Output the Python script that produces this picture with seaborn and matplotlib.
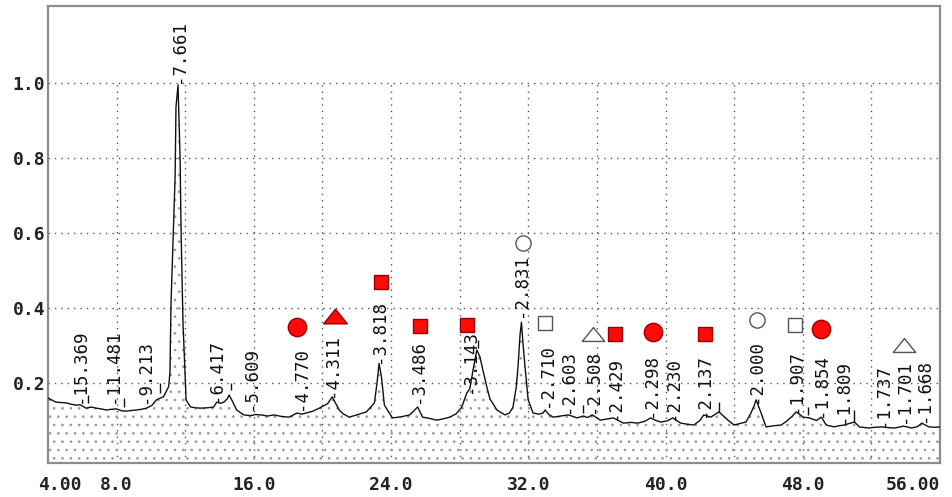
import matplotlib
matplotlib.use("Agg")
import matplotlib.pyplot as plt
from matplotlib.path import Path
from matplotlib.transforms import ScaledTranslation
import seaborn as sns

# --- diffraction profile (2-theta, relative intensity) ---
two_theta = [4.00, 4.47, 5.05, 5.40, 5.64, 5.87, 6.22, 6.50, 6.81, 7.10, 7.40, 7.70,
             7.98, 8.30, 8.57, 8.90, 9.15, 9.45, 9.74, 10.05, 10.32, 10.55, 10.73,
             11.03, 11.11, 11.17, 11.29, 11.41, 11.46, 11.58, 11.70, 11.76, 11.87,
             11.99, 12.05, 12.31, 12.60, 12.90, 13.30, 13.66, 13.84, 14.05, 14.25,
             14.45, 14.56, 14.71, 15.00, 15.42, 15.80, 16.10, 16.41, 16.80, 17.17,
             17.60, 18.05, 18.52, 18.80, 19.05, 19.45, 19.81, 20.30, 20.57, 20.98,
             21.20, 21.56, 22.00, 22.56, 23.03, 23.18, 23.30, 23.44, 23.61, 24.08,
             24.60, 25.08, 25.55, 25.84, 26.20, 26.66, 27.00, 27.42, 27.80, 28.12,
             28.41, 28.59, 28.80, 29.00, 29.18, 29.35, 29.58, 29.76, 30.17, 30.64,
             30.90, 31.11, 31.30, 31.40, 31.52, 31.60, 31.70, 31.81, 31.99, 32.28,
             32.60, 32.86, 32.98, 33.20, 33.45, 33.90, 34.33, 34.85, 35.20, 35.45,
             35.73, 36.20, 36.60, 36.96, 37.55, 38.00, 38.37, 38.80, 39.13, 39.40,
             39.71, 40.10, 40.42, 40.89, 41.30, 41.65, 42.00, 42.23, 42.64, 43.11,
             43.64, 43.99, 44.35, 44.69, 44.98, 45.15, 45.28, 45.42, 45.57, 45.86,
             46.30, 46.74, 47.05, 47.33, 47.62, 48.03, 48.38, 48.80, 49.08, 49.37,
             49.84, 50.10, 50.43, 50.70, 51.01, 51.31, 51.84, 52.20, 52.60, 53.00,
             53.36, 53.88, 54.35, 54.70, 54.94, 55.35, 55.70, 56.00]
intensity = [0.160, 0.149, 0.147, 0.143, 0.141, 0.142, 0.133, 0.136, 0.133, 0.131, 0.128, 0.130,
             0.131, 0.126, 0.125, 0.127, 0.128, 0.130, 0.133, 0.140, 0.155, 0.160, 0.163,
             0.190, 0.227, 0.410, 0.580, 0.750, 0.936, 0.995, 0.800, 0.600, 0.360,
             0.220, 0.155, 0.136, 0.134, 0.133, 0.134, 0.136, 0.149, 0.146, 0.149,
             0.158, 0.168, 0.155, 0.128, 0.115, 0.113, 0.116, 0.115, 0.112, 0.115,
             0.111, 0.109, 0.120, 0.117, 0.120, 0.125, 0.133, 0.145, 0.163, 0.128,
             0.118, 0.109, 0.115, 0.123, 0.147, 0.200, 0.252, 0.216, 0.141, 0.107,
             0.110, 0.115, 0.136, 0.109, 0.106, 0.101, 0.104, 0.109, 0.118, 0.136,
             0.173, 0.185, 0.240, 0.288, 0.270, 0.235, 0.190, 0.158, 0.128, 0.115,
             0.120, 0.136, 0.190, 0.243, 0.330, 0.362, 0.300, 0.243, 0.155, 0.120,
             0.117, 0.120, 0.128, 0.116, 0.109, 0.112, 0.115, 0.107, 0.112, 0.108,
             0.115, 0.101, 0.104, 0.107, 0.093, 0.095, 0.093, 0.098, 0.107, 0.101,
             0.096, 0.099, 0.107, 0.093, 0.090, 0.088, 0.100, 0.115, 0.109, 0.123,
             0.101, 0.088, 0.092, 0.096, 0.120, 0.138, 0.155, 0.138, 0.120, 0.083,
             0.086, 0.088, 0.098, 0.109, 0.123, 0.109, 0.107, 0.100, 0.109, 0.088,
             0.083, 0.086, 0.088, 0.092, 0.096, 0.083, 0.080, 0.082, 0.083, 0.081,
             0.080, 0.085, 0.080, 0.084, 0.093, 0.083, 0.082, 0.083]

# --- indexed reflections: d-spacing labels (angstrom) ---
peak_d = ["15.369", "11.481", "9.213", "7.661", "6.417", "5.609", "4.770", "4.311",
          "3.818", "3.486", "3.143", "2.831", "2.710", "2.603", "2.508", "2.429",
          "2.298", "2.230", "2.137", "2.000", "1.907", "1.854", "1.809", "1.737",
          "1.701", "1.668"]
peak_x = [5.87, 7.81, 9.67, 11.61, 13.78, 15.82, 18.75, 20.57, 23.32, 25.55, 28.59,
          31.58, 33.10, 34.33, 35.79, 37.08, 39.13, 40.42, 42.23, 45.28, 47.62, 49.08,
          50.37, 52.70, 53.88, 55.05]
peak_y = [0.147, 0.147, 0.147, 1.000, 0.149, 0.128, 0.128, 0.163, 0.253, 0.147, 0.173,
          0.376, 0.136, 0.120, 0.120, 0.101, 0.109, 0.101, 0.109, 0.147, 0.120, 0.109,
          0.093, 0.083, 0.093, 0.096]

# unlabelled reflections: short ticks (position, lower end, upper end)
tick_x = [6.34, 8.45, 10.55, 14.66, 29.06, 35.20, 43.10, 48.32, 51.01]
tick_lo = [0.147, 0.136, 0.173, 0.181, 0.293, 0.120, 0.123, 0.115, 0.096]
tick_hi = [0.168, 0.160, 0.200, 0.200, 0.315, 0.141, 0.149, 0.136, 0.128]

# --- phase symbols ---
phase_x = [18.52, 20.74, 23.44, 25.66, 28.41, 31.69, 32.98, 35.79, 37.08, 39.25,
           42.29, 45.33, 47.56, 49.08, 53.88]
phase_y = [0.349, 0.379, 0.469, 0.352, 0.355, 0.573, 0.360, 0.331, 0.331, 0.336,
           0.331, 0.368, 0.355, 0.344, 0.301]
phase_kind = ["red_circle", "red_triangle", "red_square", "red_square", "red_square",
              "open_circle", "open_square", "open_triangle", "red_square", "red_circle",
              "red_square", "open_circle", "open_square", "red_circle", "open_triangle"]

# --- axis ticks ---
x_ticks = [4, 8, 12, 16, 20, 24, 28, 32, 36, 40, 44, 48, 52, 56]
x_tick_labels = ["4.00", "8.0", "", "16.0", "", "24.0", "", "32.0", "", "40.0", "",
                 "48.0", "", "56.00"]
y_ticks = [0.2, 0.4, 0.6, 0.8, 1.0]
y_tick_labels = ["0.2", "0.4", "0.6", "0.8", "1.0"]

sns.set_style("white")
plt.rcParams["font.family"] = ["DejaVu Sans Mono", "DejaVu Sans"]
plt.rcParams["hatch.linewidth"] = 0.7

fig = plt.figure(figsize=(9.53, 4.97), dpi=100)
ax = fig.add_axes([48 / 953, 34 / 497, 892 / 953, 457.5 / 497])
ymin, ymax = -0.0133, 1.207
ax.set_xlim(4, 56)
ax.set_ylim(ymin, ymax)

# dotted grid
grid_style = dict(color="#555555", linewidth=1.0, linestyle=(0, (1, 3.6)), zorder=1)
ax.hlines(y_ticks, 4, 56, **grid_style)
ax.vlines(x_ticks[1:-1], ymin, 1.0, **grid_style)

# dotted area under the profile
ax.fill_between(two_theta, ymin, intensity, facecolor="none", edgecolor="#9a9a9a",
                hatch="..", linewidth=0, zorder=1.5)

sns.lineplot(x=two_theta, y=intensity, color="#111111", linewidth=1.0,
             estimator=None, sort=False, ax=ax, zorder=3)

# reflection labels
for d, x, y in zip(peak_d, peak_x, peak_y):
    ax.text(x, y, "-" + d, rotation=90, ha="center", va="bottom",
            fontsize=12.5, color="#111111", zorder=4)
ax.vlines(tick_x, tick_lo, tick_hi, color="#111111", linewidth=1.0, zorder=4)

# phase symbols
flat_triangle = Path([(-1.0, -0.62), (1.0, -0.62), (0.0, 0.62), (-1.0, -0.62)],
                     [Path.MOVETO, Path.LINETO, Path.LINETO, Path.CLOSEPOLY])
styles = {
    "red_circle": dict(marker="o", s=175, color="#ff0a0a", edgecolor="#9a0000"),
    "red_triangle": dict(marker=flat_triangle, s=290, color="#ff0a0a", edgecolor="#9a0000"),
    "red_square": dict(marker="s", s=100, color="#ff0a0a", edgecolor="#9a0000"),
    "open_circle": dict(marker="o", s=120, color="white", edgecolor="#555555"),
    "open_square": dict(marker="s", s=90, color="white", edgecolor="#555555"),
    "open_triangle": dict(marker=flat_triangle, s=260, color="white", edgecolor="#555555"),
}
for kind, st in styles.items():
    xs = [x for x, k in zip(phase_x, phase_kind) if k == kind]
    ys = [y for y, k in zip(phase_y, phase_kind) if k == kind]
    sns.scatterplot(x=xs, y=ys, ax=ax, linewidth=1.0, zorder=5, legend=False, **st)

# axes frame and ticks
for sp in ax.spines.values():
    sp.set_color("#8c8c8c")
    sp.set_linewidth(1.6)
ax.set_xticks(x_ticks)
ax.set_xticklabels(x_tick_labels, fontsize=13, fontweight="bold", color="#222222")
ax.set_yticks(y_ticks)
ax.set_yticklabels(y_tick_labels, fontsize=13, fontweight="bold", color="#222222")
ax.tick_params(axis="x", direction="out", length=6, width=1.6, color="#555555", pad=3)
ax.tick_params(axis="y", length=0, pad=2)
labels = ax.get_xticklabels()
labels[0].set_ha("left")
labels[0].set_transform(labels[0].get_transform()
                        + ScaledTranslation(-0.10, 0, fig.dpi_scale_trans))
labels[-1].set_ha("right")
ax.set_xlabel("")
ax.set_ylabel("")

fig.savefig("out.png", dpi=100)
